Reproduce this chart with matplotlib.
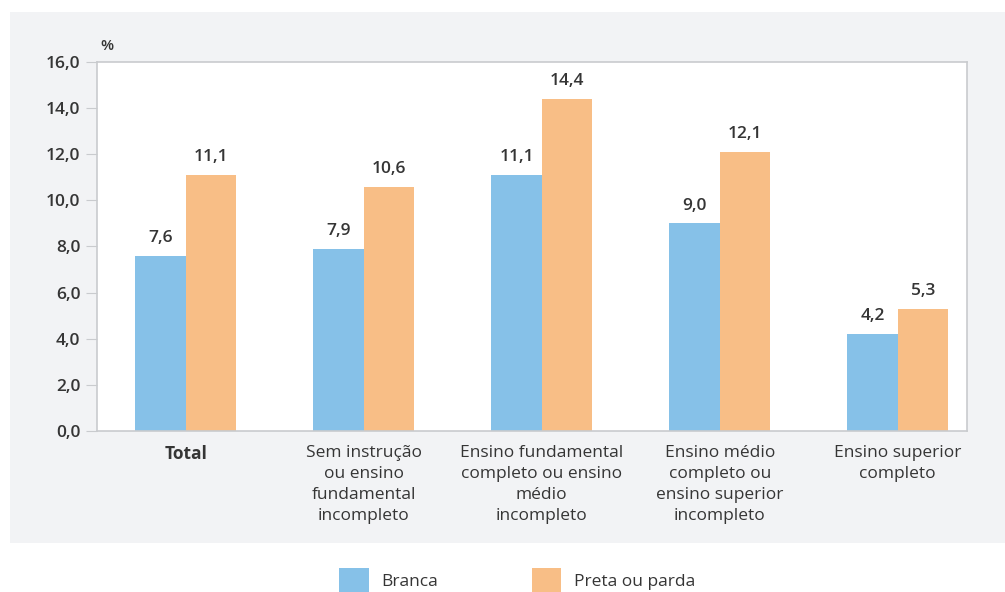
import matplotlib.pyplot as plt
from matplotlib.patches import Rectangle

plt.rcParams['font.family'] = ['Open Sans', 'DejaVu Sans']

categorias = ['Total',
              'Sem instrução\nou ensino\nfundamental\nincompleto',
              'Ensino fundamental\ncompleto ou ensino\nmédio\nincompleto',
              'Ensino médio\ncompleto ou\nensino superior\nincompleto',
              'Ensino superior\ncompleto']
branca = [7.6, 7.9, 11.1, 9.0, 4.2]
preta_parda = [11.1, 10.6, 14.4, 12.1, 5.3]
yticks = [0, 2, 4, 6, 8, 10, 12, 14, 16]

cor_branca = '#86c1e8'
cor_preta = '#f8be86'
cor_texto = '#353535'
cor_eixo = '#c9cbce'

W, H = 1005, 592
fig = plt.figure(figsize=(W / 100, H / 100), dpi=100)

# painel cinza de fundo
fig.patches.append(Rectangle((10 / W, (H - 543) / H), (W - 10) / W, (543 - 12) / H,
                             transform=fig.transFigure, facecolor='#f2f3f5',
                             edgecolor='none', zorder=-10))

ax = fig.add_axes([97 / W, (H - 431) / H, (967 - 97) / W, (431 - 62) / H])
ax.set_zorder(1)
ax.set_facecolor('white')

x = list(range(len(categorias)))
larg = 0.284
b1 = ax.bar([i - larg / 2 for i in x], branca, width=larg, color=cor_branca, label='Branca')
b2 = ax.bar([i + larg / 2 for i in x], preta_parda, width=larg, color=cor_preta, label='Preta ou parda')

for barras, vals in ((b1, branca), (b2, preta_parda)):
    for r, v in zip(barras, vals):
        ax.text(r.get_x() + r.get_width() / 2, v + 0.42, f'{v:.1f}'.replace('.', ','),
                ha='center', va='bottom', fontsize=12.5, color=cor_texto, fontweight='semibold')

ax.set_xlim(-0.5, 4.39)
ax.set_ylim(0, 16)
ax.set_yticks(yticks)
ax.set_yticklabels([f'{t:.1f}'.replace('.', ',') for t in yticks], fontsize=12.5,
                   color=cor_texto, fontweight='semibold')
ax.tick_params(axis='y', length=8, color=cor_eixo, pad=4)
ax.set_xticks(x)
ax.set_xticklabels(categorias, fontsize=12.5, color=cor_texto, linespacing=1.43)
ax.get_xticklabels()[0].set_fontweight('bold')
ax.tick_params(axis='x', length=0, pad=10)
for s in ax.spines.values():
    s.set_color(cor_eixo)
    s.set_linewidth(1.2)

ax.text(0.004, 1.025, '%', transform=ax.transAxes, fontsize=11, color=cor_texto,
        ha='left', va='bottom', fontweight='semibold')

fig.legend(handles=[b1, b2], loc='center left', bbox_to_anchor=(339 / W, (H - 580) / H), ncol=2,
           frameon=False, fontsize=12.5, handlelength=1.72, handleheight=1.72,
           columnspacing=5.4, handletextpad=0.7, labelcolor=cor_texto,
           borderpad=0, borderaxespad=0)

fig.savefig('out.png', dpi=100)
